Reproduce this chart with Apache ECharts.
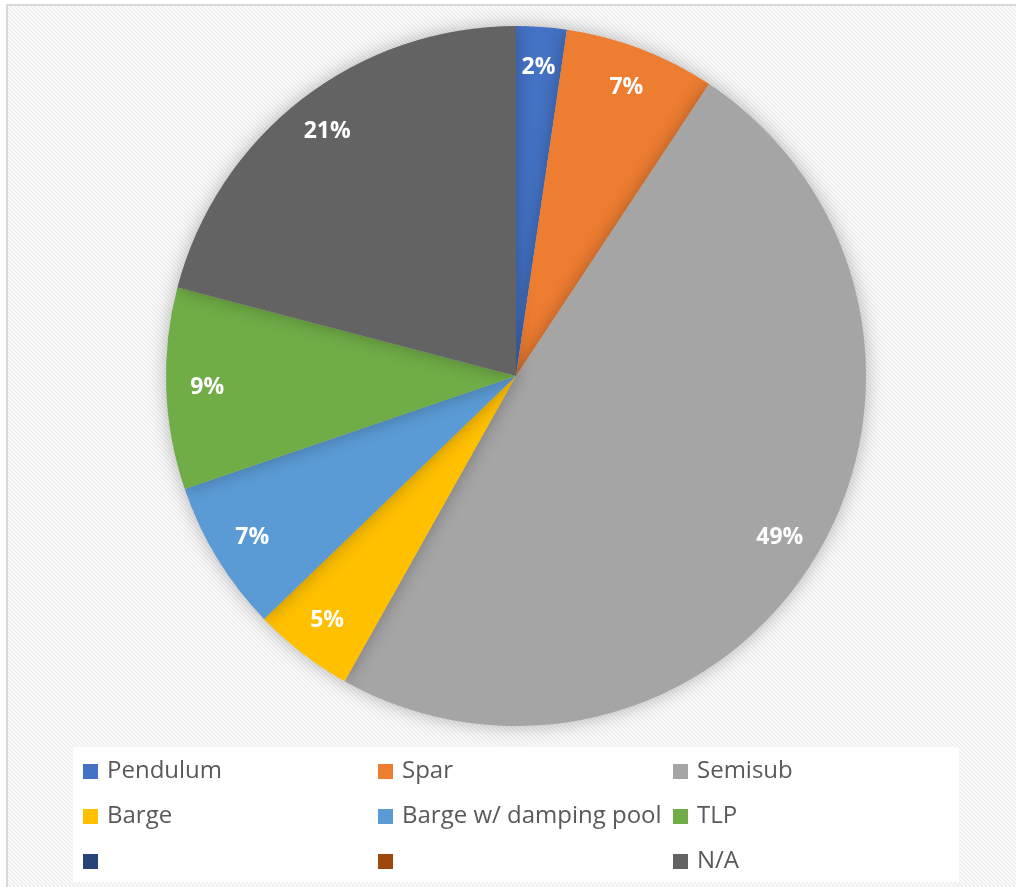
<!DOCTYPE html>
<html>
<head>
<meta charset="utf-8">
<script src="https://cdn.jsdelivr.net/npm/echarts@6/dist/echarts.min.js"></script>
<style>
  html, body { margin: 0; padding: 0; background: #ffffff; }
  #chart { width: 1016px; height: 887px; }
</style>
</head>
<body>
<div id="chart"></div>
<script>
// Platform types and their counts
const categories = ['Pendulum', 'Spar', 'Semisub', 'Barge', 'Barge w/ damping pool', 'TLP', ' ', '  ', 'N/A'];
const counts = [1, 3, 21, 2, 3, 4, 0, 0, 9];
const colors = ['#4472C4', '#ED7D31', '#A5A5A5', '#FFC000', '#5B9BD5', '#70AD47', '#264478', '#9E480E', '#636363'];

// Legend columns (read across rows, laid out as columns)
const legendCol1 = ['Pendulum', 'Barge', ' '];
const legendCol2 = ['Spar', 'Barge w/ damping pool', '  '];
const legendCol3 = ['Semisub', 'TLP', 'N/A'];

// Subtle diagonal-stripe fill for the chart area
function stripePattern() {
  const c = document.createElement('canvas');
  c.width = 4; c.height = 4;
  const g = c.getContext('2d');
  g.fillStyle = '#fbfbfb';
  g.fillRect(0, 0, 4, 4);
  g.strokeStyle = '#ebebeb';
  g.lineWidth = 1.2;
  g.beginPath();
  g.moveTo(-1, -1); g.lineTo(5, 5);
  g.moveTo(-1, 3); g.lineTo(1, 5);
  g.moveTo(3, -1); g.lineTo(5, 1);
  g.stroke();
  return c;
}

const data = categories.map((name, i) => ({
  name: name,
  value: counts[i],
  itemStyle: { color: colors[i] }
}));

const chart = echarts.init(document.getElementById('chart'), null, { renderer: 'canvas' });

const legendBase = {
  orient: 'vertical',
  itemWidth: 15,
  itemHeight: 15,
  itemGap: 20,
  icon: 'rect',
  selectedMode: false,
  textStyle: { fontFamily: 'Open Sans', fontSize: 24, lineHeight: 25, color: '#595959', padding: [0, 0, 0, 4] }
};

chart.setOption({
  animation: false,
  backgroundColor: '#ffffff',
  graphic: [
    {
      type: 'rect',
      shape: { x: 7, y: 5, width: 1020, height: 890 },
      style: { fill: { image: stripePattern(), repeat: 'repeat' }, stroke: '#d9d9d9', lineWidth: 2 },
      z: -10
    },
    {
      type: 'rect',
      shape: { x: 73, y: 747, width: 886, height: 135 },
      style: { fill: '#ffffff' },
      z: -5
    }
  ],
  legend: [
    Object.assign({ left: 78, top: 754, data: legendCol1 }, legendBase),
    Object.assign({ left: 373, top: 754, data: legendCol2 }, legendBase),
    Object.assign({ left: 668, top: 754, data: legendCol3 }, legendBase)
  ],
  series: [
    {
      // slices
      type: 'pie',
      center: [516, 376],
      radius: [0, 350],
      startAngle: 90,
      clockwise: true,
      avoidLabelOverlap: false,
      emphasis: { disabled: true },
      silent: true,
      itemStyle: { shadowBlur: 18, shadowColor: 'rgba(0,0,0,0.28)' },
      label: { show: false },
      labelLine: { show: false },
      data: data
    },
    {
      // percentage labels near the outer edge
      type: 'pie',
      center: [516, 376],
      radius: [262, 350],
      startAngle: 90,
      clockwise: true,
      avoidLabelOverlap: false,
      emphasis: { disabled: true },
      silent: true,
      itemStyle: { color: 'rgba(0,0,0,0)' },
      label: {
        show: true,
        position: 'inside',
        color: '#ffffff',
        fontFamily: 'Open Sans',
        fontWeight: 'bold',
        fontSize: 23,
        formatter: p => p.value > 0 ? Math.round(p.percent) + '%' : ''
      },
      labelLine: { show: false },
      data: categories.map((name, i) => ({ name: name, value: counts[i] }))
    }
  ]
});
</script>
</body>
</html>
